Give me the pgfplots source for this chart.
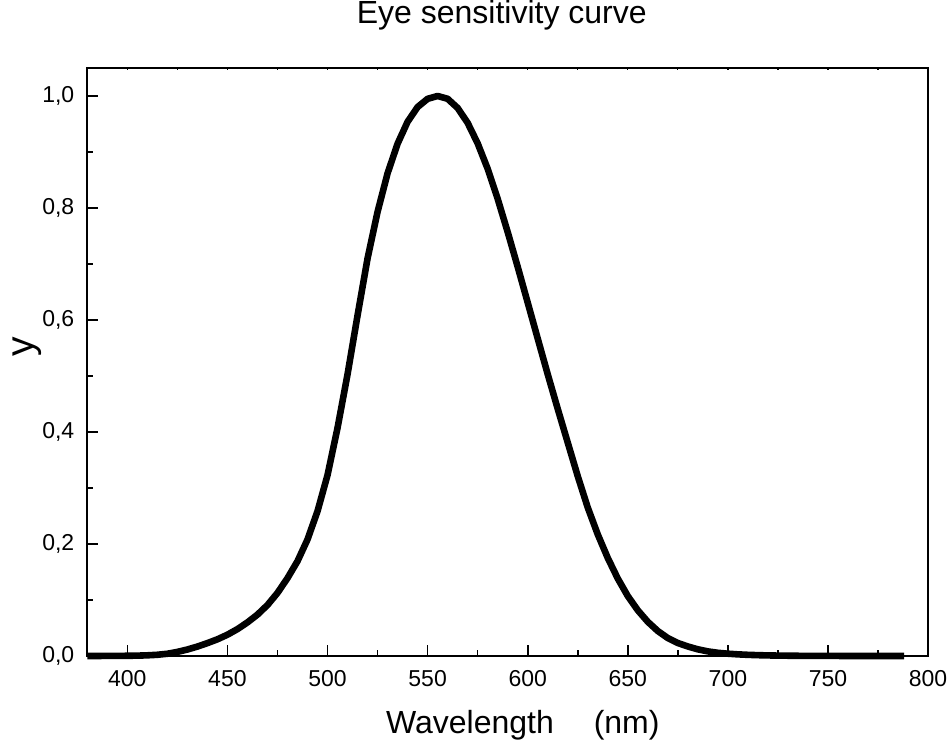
\documentclass[border=0pt]{standalone}
\usepackage{pgfplots}
\pgfplotsset{compat=1.18}
\usepackage{fontspec}
\setmainfont{Liberation Sans}
\pgfplotstableread{
x y
380 0.000039
385 0.000064
390 0.00012
395 0.000217
400 0.000396
405 0.00064
410 0.00121
415 0.00218
420 0.004
425 0.0073
430 0.0116
435 0.01684
440 0.023
445 0.0298
450 0.038
455 0.048
460 0.06
465 0.0739
470 0.09098
475 0.1126
480 0.13902
485 0.1693
490 0.20802
495 0.2586
500 0.323
505 0.4073
510 0.503
515 0.6082
520 0.71
525 0.7932
530 0.862
535 0.91485
540 0.954
545 0.9803
550 0.99495
555 1.0
560 0.995
565 0.9786
570 0.952
575 0.9154
580 0.87
585 0.8163
590 0.757
595 0.6949
600 0.631
605 0.5668
610 0.503
615 0.4412
620 0.381
625 0.321
630 0.265
635 0.217
640 0.175
645 0.1382
650 0.107
655 0.0816
660 0.061
665 0.04458
670 0.032
675 0.0232
680 0.017
685 0.01192
690 0.00821
695 0.005723
700 0.004102
705 0.002929
710 0.002091
715 0.001484
720 0.001047
725 0.00074
730 0.00052
735 0.000361
740 0.000249
745 0.000172
750 0.00012
760 0.00006
770 0.00003
780 0.000015
788 0.00001
}\vdata
\begin{document}
\begin{tikzpicture}
\useasboundingbox (-43.65pt,-44.5pt) rectangle (431.35pt,328pt);
\begin{axis}[
  at={(0pt,0pt)}, anchor=south west,
  scale only axis, width=420.4pt, height=294pt,
  xmin=380, xmax=800, ymin=0, ymax=1.05,
  xtick={400,450,500,550,600,650,700,750,800},
  ytick={0,0.2,0.4,0.6,0.8,1.0},
  minor x tick num=1, minor y tick num=1,
  xtick pos=bottom, ytick pos=left,
  tick align=inside,
  major tick length=5.5pt, minor tick length=3pt,
  axis line style={line width=1pt},
  every tick/.style={black, line width=0.8pt},
  clip=false,
  /pgf/number format/assume math mode=true,
  xticklabel style={font=\fontsize{11.5}{13}\selectfont, yshift=-3.5pt, /pgf/number format/.cd, fixed, precision=0},
  yticklabel style={font=\fontsize{11.5}{13}\selectfont, xshift=-3pt, /pgf/number format/.cd, use comma, fixed, fixed zerofill, precision=1},
  title={Eye sensitivity curve},
  title style={at={(axis description cs:0.493,1.055)}, anchor=base, font=\fontsize{16}{19}\selectfont},
  xlabel={Wavelength\hspace{20pt}(nm)},
  xlabel style={at={(axis description cs:0.518,-0.131)}, anchor=base, font=\fontsize{16}{19}\selectfont},
  ylabel={y},
  ylabel style={at={(axis description cs:-0.0717,0.5255)}, anchor=center, font=\fontsize{19.5}{23}\selectfont},
]
\addplot[black, line width=3.3pt, line join=round] table[x=x, y=y] {\vdata};
\end{axis}
\begin{axis}[
  at={(0pt,0pt)}, anchor=south west,
  scale only axis, width=420.4pt, height=294pt,
  xmin=380, xmax=800, ymin=0, ymax=1.05,
  axis x line*=top, axis y line=none,
  xtick={400,450,500,550,600,650,700,750,800},
  minor x tick num=1,
  tick align=inside,
  major tick length=1.2pt, minor tick length=1.2pt,
  axis line style={line width=1pt},
  every tick/.style={black, line width=0.6pt},
  xticklabels={},
]
\end{axis}
\end{tikzpicture}
\end{document}
